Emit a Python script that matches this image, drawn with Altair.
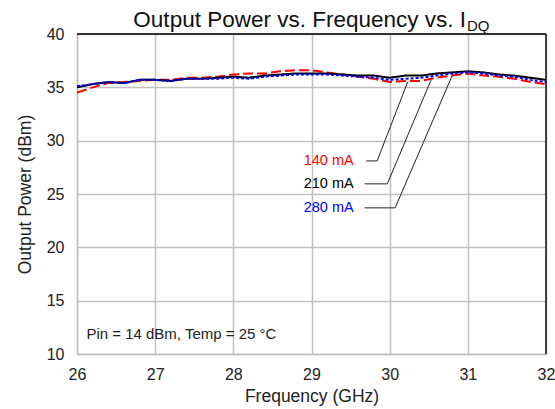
import altair as alt
import pandas as pd

# Frequency sweep (GHz)
freq = [26.0, 26.2, 26.4, 26.6, 26.8, 27.0, 27.2, 27.4, 27.6, 27.8, 28.0,
        28.2, 28.4, 28.6, 28.8, 29.0, 29.2, 29.4, 29.6, 29.8, 30.0,
        30.2, 30.4, 30.6, 30.8, 31.0, 31.2, 31.4, 31.6, 31.8, 32.0]

# Output power (dBm) for each quiescent drain current
pout_140 = [34.5, 35.0, 35.4, 35.5, 35.6, 35.7, 35.7, 35.9, 35.9, 36.0, 36.2,
            36.3, 36.3, 36.5, 36.6, 36.6, 36.4, 36.2, 36.0, 35.8, 35.5,
            35.6, 35.6, 35.9, 36.1, 36.3, 36.1, 36.0, 35.8, 35.5, 35.3]
pout_210 = [35.0, 35.3, 35.5, 35.4, 35.7, 35.7, 35.6, 35.8, 35.8, 35.9, 36.0,
            35.9, 36.1, 36.2, 36.3, 36.3, 36.3, 36.2, 36.1, 36.1, 35.9,
            36.1, 36.1, 36.3, 36.4, 36.5, 36.4, 36.2, 36.1, 35.9, 35.7]
pout_280 = [35.1, 35.3, 35.5, 35.4, 35.7, 35.7, 35.6, 35.8, 35.8, 35.8, 35.9,
            35.8, 36.0, 36.1, 36.2, 36.2, 36.2, 36.1, 36.0, 35.9, 35.7,
            35.8, 35.9, 36.1, 36.3, 36.4, 36.3, 36.1, 36.0, 35.7, 35.5]

series_names = ["140 mA", "210 mA", "280 mA"]
series_colors = ["#ff0000", "#000000", "#0000ff"]
series_dash = [[10, 4], [1, 0], [3, 2]]

# Label placement and leader lines (GHz, dBm)
label_x = [29.54, 29.54, 29.54]
label_y = [28.1, 25.95, 23.7]
leader_x0 = [29.70, 29.68, 29.68]
leader_x1 = [29.84, 29.97, 30.07]
leader_x2 = [30.23, 30.53, 30.80]
leader_y2 = [35.5, 35.7, 36.1]

rows = []
for name, vals in zip(series_names, [pout_140, pout_210, pout_280]):
    for f, p in zip(freq, vals):
        rows.append({"freq": f, "pout": p, "idq": name})
df = pd.DataFrame(rows)

X = alt.Scale(domain=[26, 32], nice=False)
Y = alt.Scale(domain=[10, 40], nice=False)

x_axis = alt.Axis(title="Frequency (GHz)", values=list(range(26, 33)), format="d", grid=True,
                  gridColor="#c0c0c0", gridWidth=1.5, ticks=False, domainColor="#c0c0c0",
                  domainWidth=1.5, labelFontSize=16, titleFontSize=17.5, labelPadding=12,
                  titlePadding=5, labelColor="#222222", titleColor="#222222",
                  labelFont="Liberation Sans", titleFont="Liberation Sans",
                  titleFontWeight="normal", labelFlush=False)
y_axis = alt.Axis(title="Output Power (dBm)", values=list(range(10, 41, 5)), format="d", grid=True,
                  gridColor="#c0c0c0", gridWidth=1.5, ticks=False, domainColor="#c0c0c0",
                  domainWidth=1.5, labelFontSize=16, titleFontSize=17.5, labelPadding=13,
                  titlePadding=12, labelColor="#222222", titleColor="#222222",
                  labelFont="Liberation Sans", titleFont="Liberation Sans",
                  titleFontWeight="normal", labelFlush=False)

lines = alt.Chart(df).mark_line(strokeWidth=2, clip=True).encode(
    x=alt.X("freq:Q", scale=X, axis=x_axis),
    y=alt.Y("pout:Q", scale=Y, axis=y_axis),
    color=alt.Color("idq:N", scale=alt.Scale(domain=series_names, range=series_colors), legend=None),
    strokeDash=alt.StrokeDash("idq:N", scale=alt.Scale(domain=series_names, range=series_dash), legend=None),
    order=alt.Order("idq:N", sort="descending"),
)

# Dark frame edges on top and right
frame = alt.Chart(pd.DataFrame({"a": [0]})).mark_rule(color="#333333", strokeWidth=2).encode(
    x=alt.value(0), x2=alt.value(469), y=alt.value(0)
) + alt.Chart(pd.DataFrame({"a": [0]})).mark_rule(color="#111111", strokeWidth=1.5).encode(
    x=alt.value(469), y=alt.value(0), y2=alt.value(320)
)

lead_rows = []
for i, name in enumerate(series_names):
    lead_rows.append({"idq": name, "seg": 0, "x": leader_x0[i], "y": label_y[i]})
    lead_rows.append({"idq": name, "seg": 1, "x": leader_x1[i], "y": label_y[i]})
    lead_rows.append({"idq": name, "seg": 2, "x": leader_x2[i], "y": leader_y2[i]})
leaders = alt.Chart(pd.DataFrame(lead_rows)).mark_line(color="#222222", strokeWidth=1).encode(
    x=alt.X("x:Q", scale=X),
    y=alt.Y("y:Q", scale=Y),
    detail="idq:N",
    order="seg:Q",
)

labels = alt.Chart(pd.DataFrame({"x": label_x, "y": label_y, "t": series_names})).mark_text(
    align="right", baseline="middle", fontSize=14.5, font="Liberation Sans"
).encode(
    x=alt.X("x:Q", scale=X),
    y=alt.Y("y:Q", scale=Y),
    text="t:N",
    color=alt.Color("t:N", scale=alt.Scale(domain=series_names, range=["#ff0000", "#111111", "#2020ff"]), legend=None),
)

cond = alt.Chart(pd.DataFrame({"x": [26.12], "y": [11.9], "t": ["Pin = 14 dBm, Temp = 25 °C"]})).mark_text(
    align="left", baseline="middle", fontSize=15, font="Liberation Sans", color="#222222"
).encode(x=alt.X("x:Q", scale=X), y=alt.Y("y:Q", scale=Y), text="t:N")

title_main = alt.Chart(pd.DataFrame({"t": ["Output Power vs. Frequency vs. I"]})).mark_text(
    align="right", baseline="alphabetic", fontSize=22.5, font="Liberation Sans", color="#111111"
).encode(x=alt.value(389), y=alt.value(-7), text="t:N")
title_sub = alt.Chart(pd.DataFrame({"t": ["DQ"]})).mark_text(
    align="left", baseline="alphabetic", fontSize=15, font="Liberation Sans", color="#111111"
).encode(x=alt.value(390), y=alt.value(-3), text="t:N")

chart = alt.layer(lines, frame, leaders, labels, cond, title_main, title_sub).properties(
    width=469, height=320,
    autosize=alt.AutoSizeParams(type="none"),
    padding={"left": 77, "top": 34, "right": 9, "bottom": 55},
    background="white",
).configure_view(stroke=None)

chart.save("out.html", embed_options={"renderer": "svg", "actions": False})
